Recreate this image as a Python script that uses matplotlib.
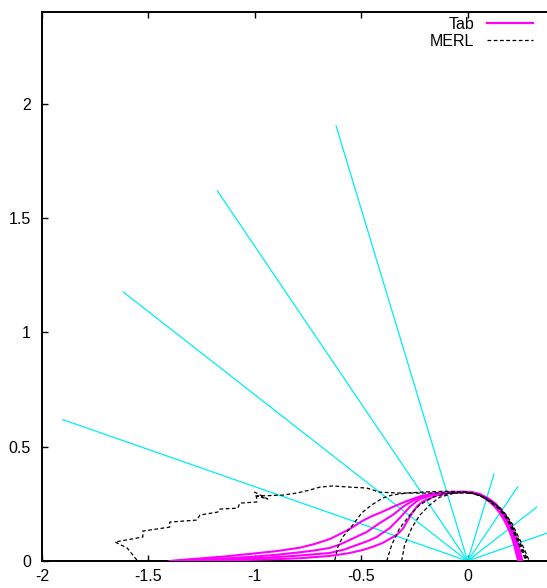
import matplotlib
matplotlib.use("Agg")
import matplotlib.pyplot as plt
from matplotlib.lines import Line2D

plt.rcParams['font.family'] = ['Liberation Sans', 'DejaVu Sans']
plt.rcParams['axes.unicode_minus'] = False

# ---- data ----
# rays from the origin (end points)
ray_x = [-1.902, -1.618, -1.176, -0.618, 0.124, 0.235, 0.324, 0.380]
ray_y = [0.618, 1.176, 1.618, 1.902, 0.380, 0.324, 0.235, 0.124]

# "Tab" lobes
tab_a_x = [-1.40, -1.33, -1.258, -1.14, -1.023, -0.9, -0.789, -0.72, -0.648, -0.6, -0.554, -0.493, -0.45,
           -0.413, -0.352, -0.286, -0.225, -0.18, -0.146, -0.08,
           -0.02, 0.02, 0.06, 0.10, 0.13, 0.16, 0.19, 0.21, 0.225, 0.238, 0.248, 0.255, 0.258]
tab_a_y = [0.0, 0.006, 0.011, 0.02, 0.031, 0.043, 0.058, 0.074, 0.096, 0.118, 0.14, 0.176, 0.196,
           0.21, 0.236, 0.262, 0.282, 0.292, 0.297, 0.302,
           0.303, 0.301, 0.292, 0.272, 0.252, 0.222, 0.182, 0.145, 0.11, 0.07, 0.035, 0.01, 0.0]
tab_b_x = [-1.38, -1.258, -1.14, -1.023, -0.9, -0.789, -0.72, -0.648, -0.6, -0.554, -0.474, -0.413, -0.352,
           -0.305, -0.27, -0.239, -0.178, -0.10,
           -0.02, 0.02, 0.06, 0.10, 0.128, 0.157, 0.185, 0.205, 0.22, 0.232, 0.242, 0.248, 0.251]
tab_b_y = [0.0, 0.005, 0.011, 0.018, 0.027, 0.038, 0.046, 0.057, 0.072, 0.092, 0.127, 0.166, 0.201,
           0.236, 0.257, 0.272, 0.29, 0.30,
           0.302, 0.30, 0.291, 0.269, 0.249, 0.219, 0.179, 0.142, 0.108, 0.068, 0.034, 0.01, 0.0]
tab_c_x = [-1.36, -1.2, -1.023, -0.9, -0.789, -0.648, -0.58, -0.521, -0.47, -0.427, -0.366, -0.319, -0.272,
           -0.245, -0.225, -0.164, -0.10,
           -0.02, 0.02, 0.06, 0.10, 0.125, 0.153, 0.18, 0.2, 0.214, 0.226, 0.236, 0.242, 0.245]
tab_c_y = [0.0, 0.005, 0.011, 0.017, 0.024, 0.035, 0.05, 0.07, 0.087, 0.105, 0.144, 0.188, 0.236,
           0.257, 0.27, 0.289, 0.299,
           0.302, 0.299, 0.289, 0.266, 0.246, 0.216, 0.176, 0.139, 0.106, 0.066, 0.033, 0.01, 0.0]
tab_d_x = [-1.34, -1.2, -1.023, -0.9, -0.789, -0.648, -0.56, -0.493, -0.44, -0.399, -0.333, -0.305, -0.286,
           -0.258, -0.235, -0.211, -0.146, -0.08,
           -0.02, 0.02, 0.06, 0.098, 0.122, 0.149, 0.175, 0.194, 0.208, 0.22, 0.229, 0.235, 0.238]
tab_d_y = [0.0, 0.002, 0.005, 0.008, 0.012, 0.022, 0.034, 0.048, 0.064, 0.079, 0.114, 0.14, 0.17,
           0.214, 0.242, 0.26, 0.287, 0.298,
           0.301, 0.298, 0.287, 0.263, 0.243, 0.213, 0.173, 0.136, 0.104, 0.065, 0.032, 0.01, 0.0]

# "MERL" lobes
merl_a_x = [-1.554, -1.60, -1.657, -1.526, -1.526, -1.40, -1.40, -1.272, -1.258, -1.174, -1.164, -1.08, -1.07,
            -0.991, -0.991, -1.0, -0.939, -0.99, -0.869, -0.803, -0.742, -0.695, -0.634, -0.554, -0.474,
            -0.413, -0.319, -0.164, -0.005, 0.023, 0.07, 0.117, 0.153, 0.183, 0.21, 0.23, 0.25, 0.268, 0.29]
merl_a_y = [0.004, 0.057, 0.083, 0.105, 0.131, 0.148, 0.17, 0.179, 0.201, 0.214, 0.227, 0.231, 0.253,
            0.258, 0.275, 0.301, 0.271, 0.284, 0.288, 0.297, 0.31, 0.323, 0.328, 0.323, 0.319,
            0.301, 0.297, 0.297, 0.297, 0.296, 0.283, 0.258, 0.232, 0.2, 0.162, 0.122, 0.085, 0.048, 0.0]
merl_b_x = [-0.624, -0.61, -0.587, -0.54, -0.498, -0.451, -0.399, -0.357, -0.286, -0.2, -0.1, -0.02,
            0.03, 0.07, 0.115, 0.15, 0.18, 0.205, 0.226, 0.245, 0.262, 0.285]
merl_b_y = [0.004, 0.061, 0.105, 0.157, 0.21, 0.245, 0.275, 0.288, 0.297, 0.302, 0.305, 0.303,
            0.296, 0.282, 0.257, 0.231, 0.199, 0.161, 0.121, 0.084, 0.047, 0.0]
merl_c_x = [-0.38, -0.357, -0.319, -0.272, -0.225, -0.164, -0.085, -0.02,
            0.03, 0.07, 0.113, 0.148, 0.178, 0.202, 0.222, 0.241, 0.258, 0.28]
merl_c_y = [0.0, 0.07, 0.144, 0.2, 0.245, 0.279, 0.297, 0.302,
            0.295, 0.281, 0.256, 0.23, 0.198, 0.16, 0.12, 0.083, 0.046, 0.0]
merl_d_x = [-0.31, -0.296, -0.263, -0.225, -0.178, -0.131, -0.061, -0.02,
            0.03, 0.07, 0.11, 0.145, 0.175, 0.198, 0.218, 0.237, 0.253, 0.275]
merl_d_y = [0.0, 0.07, 0.144, 0.2, 0.245, 0.279, 0.297, 0.301,
            0.294, 0.28, 0.255, 0.229, 0.197, 0.159, 0.12, 0.082, 0.046, 0.0]

x_ticks = [-2, -1.5, -1, -0.5, 0, 0.5]
x_labels = ['-2', '-1.5', '-1', '-0.5', '0', '']
y_ticks = [0, 0.5, 1, 1.5, 2]
y_labels = ['0', '0.5', '1', '1.5', '2']

# ---- figure ----
W, H = 547, 588
fig = plt.figure(figsize=(W / 100, H / 100), dpi=100)
ax = fig.add_axes([42 / W, 27 / H, (574 - 42) / W, (576 - 27) / H])
ax.set_xlim(-2, 0.5)
ax.set_ylim(0, 2.4)

cyan = '#00eeee'
mag = '#ff00ff'
for ex, ey in zip(ray_x, ray_y):
    ax.plot([0, ex], [0, ey], color=cyan, lw=0.9, zorder=2)

tab_x = [tab_a_x, tab_b_x, tab_c_x, tab_d_x]
tab_y = [tab_a_y, tab_b_y, tab_c_y, tab_d_y]
for xs, ys in zip(tab_x, tab_y):
    ax.plot(xs, ys, color=mag, lw=1.5, zorder=3, solid_joinstyle='round')

merl_x = [merl_a_x, merl_b_x, merl_c_x, merl_d_x]
merl_y = [merl_a_y, merl_b_y, merl_c_y, merl_d_y]
for xs, ys in zip(merl_x, merl_y):
    ax.plot(xs, ys, color='black', lw=0.9, ls=(0, (3, 2)), zorder=4)

ax.set_xticks(x_ticks)
ax.set_xticklabels(x_labels)
ax.set_yticks(y_ticks)
ax.set_yticklabels(y_labels)
ax.tick_params(direction='in', length=4, width=1, top=True, right=True,
               labelsize=11.5, pad=6, colors='black')
ax.tick_params(axis='y', pad=8)
for s in ax.spines.values():
    s.set_linewidth(1.4)

handles = [Line2D([], [], color=mag, lw=1.6),
           Line2D([], [], color='black', lw=0.9, ls=(0, (3, 2)))]
fig.legend(handles, ['Tab', 'MERL'], loc='upper right',
           bbox_to_anchor=(533 / W, 1 - 17 / H), frameon=False,
           markerfirst=False, handlelength=2.9, handletextpad=0.8,
           labelspacing=0.12, borderpad=0, borderaxespad=0, fontsize=11.5)

fig.savefig('out.png', dpi=100)
